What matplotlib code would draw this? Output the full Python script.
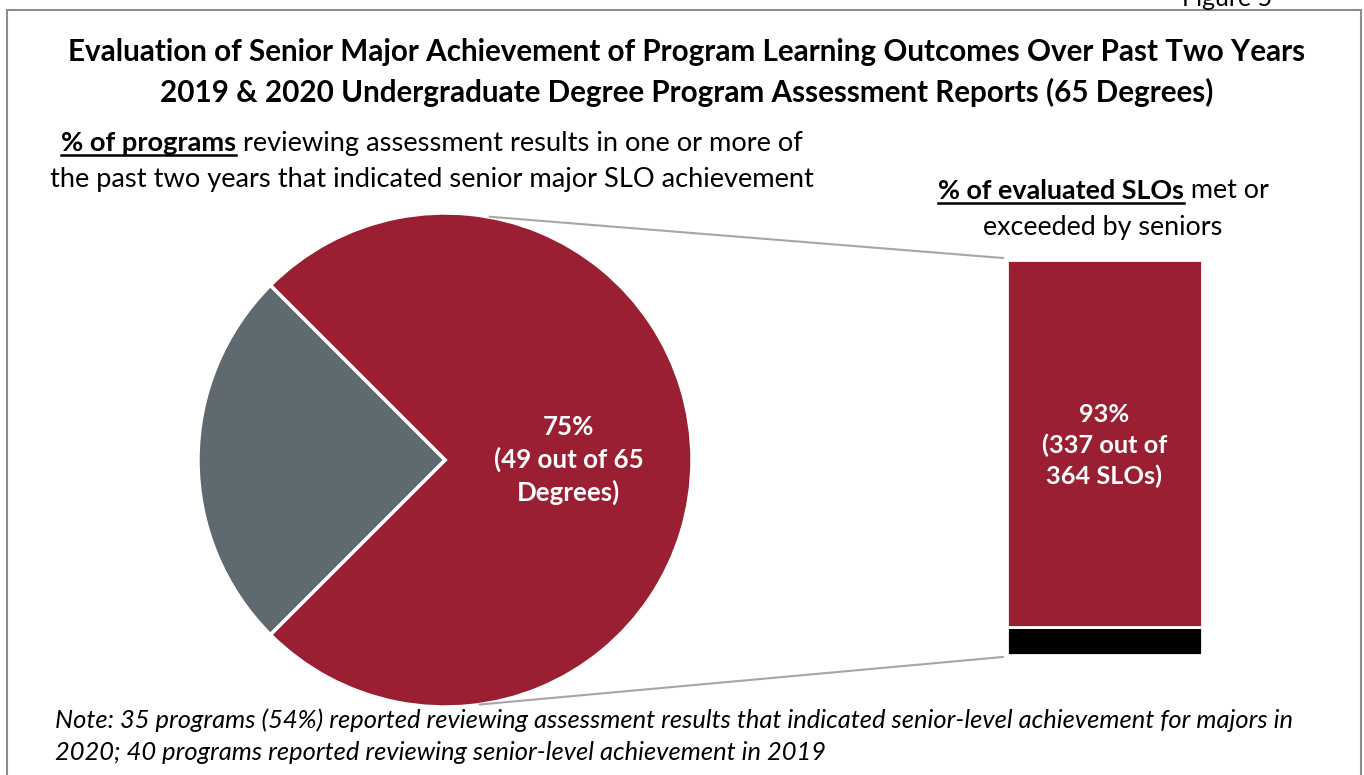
import matplotlib.pyplot as plt
from matplotlib.patches import Rectangle, ConnectionPatch
from matplotlib.lines import Line2D

plt.rcParams['font.family'] = ['Lato', 'DejaVu Sans']

# data
pie_labels = ['Indicated achievement', 'Did not']
pie_values = [75, 25]
bar_labels = ['Met or exceeded', 'Not met']
bar_values = [93, 7]
pie_text = '75%\n(49 out of 65\nDegrees)'
bar_text = '93%\n(337 out of\n364 SLOs)'

RED = '#9a1f33'
GRAY = '#5e6970'

W, H = 1364, 775
fig = plt.figure(figsize=(W / 100, H / 100), dpi=100)


def fx(px):
    return px / W


def fy(py):
    return 1 - py / H


# outer frame
fig.patches.append(Rectangle((fx(7), fy(790)), fx(1361) - fx(7), fy(10) - fy(790),
                             transform=fig.transFigure, fill=False,
                             edgecolor='#8c8c8c', linewidth=1.5))
fig.text(fx(1227), fy(6), 'Figure 5', ha='center', va='baseline', fontsize=18)

# titles
fig.text(fx(687), fy(52), 'Evaluation of Senior Major Achievement of Program Learning Outcomes Over Past Two Years',
         ha='center', va='center', fontsize=21.3, fontweight='bold')
fig.text(fx(687), fy(92), '2019 & 2020 Undergraduate Degree Program Assessment Reports (65 Degrees)',
         ha='center', va='center', fontsize=21.3, fontweight='bold')

renderer = fig.canvas.get_renderer()


def mixed_line(cx, cy, bold, rest, size):
    t1 = fig.text(0, fy(cy), bold, fontsize=size, fontweight='bold', va='center', ha='left')
    t2 = fig.text(0, fy(cy), rest, fontsize=size, va='center', ha='left')
    w1 = t1.get_window_extent(renderer).width
    w2 = t2.get_window_extent(renderer).width
    x0 = cx - (w1 + w2) / 2
    t1.set_x(fx(x0))
    t2.set_x(fx(x0 + w1))
    uy = fy(cy + size * 0.62)
    fig.add_artist(Line2D([fx(x0), fx(x0 + w1)], [uy, uy], transform=fig.transFigure,
                          color='black', linewidth=1.8))


mixed_line(432, 143, '% of programs', ' reviewing assessment results in one or more of', 19.6)
fig.text(fx(432), fy(179), 'the past two years that indicated senior major SLO achievement',
         ha='center', va='center', fontsize=19.6)
mixed_line(1103, 191, '% of evaluated SLOs', ' met or', 19.4)
fig.text(fx(1103), fy(227), 'exceeded by seniors', ha='center', va='center', fontsize=19.4)

# pie
r = 247
ax_pie = fig.add_axes([fx(445 - r), fy(460 + r), 2 * r / W, 2 * r / H])
ax_pie.pie(pie_values, colors=[RED, GRAY], startangle=225, radius=1,
           wedgeprops=dict(edgecolor='white', linewidth=2.5))
ax_pie.set_xlim(-1, 1)
ax_pie.set_ylim(-1, 1)
ax_pie.axis('off')
ax_pie.text(0.5, 0.0, pie_text, ha='center', va='center', color='white',
            fontsize=18.6, fontweight='bold', linespacing=1.38)

# stacked bar
ax_bar = fig.add_axes([fx(1007), fy(655), 195 / W, 395 / H])
ax_bar.bar([0], [bar_values[1]], width=1, color='black', edgecolor='white', linewidth=2)
ax_bar.bar([0], [bar_values[0]], bottom=[bar_values[1]], width=1, color=RED,
           edgecolor='white', linewidth=2)
ax_bar.set_xlim(-0.5, 0.5)
ax_bar.set_ylim(0, 100)
ax_bar.axis('off')
ax_bar.text(0, 53.0, bar_text, ha='center', va='center', color='white',
            fontsize=18.3, fontweight='bold', linespacing=1.38)

# connector lines
for ang_y, bar_y in [(0.985, 100.5), (-0.99, -0.5)]:
    xa = 0.18 if ang_y > 0 else 0.14
    con = ConnectionPatch(xyA=(xa, ang_y), coordsA=ax_pie.transData,
                          xyB=(-0.52, bar_y), coordsB=ax_bar.transData,
                          color='#a6a6a6', linewidth=1.5)
    fig.add_artist(con)

# note
fig.text(fx(55), fy(720), 'Note: 35 programs (54%) reported reviewing assessment results that indicated senior-level achievement for majors in',
         ha='left', va='center', fontsize=18.4, style='italic')
fig.text(fx(55), fy(752), '2020; 40 programs reported reviewing senior-level achievement in 2019',
         ha='left', va='center', fontsize=18.4, style='italic')

fig.savefig('out.png', dpi=100)
